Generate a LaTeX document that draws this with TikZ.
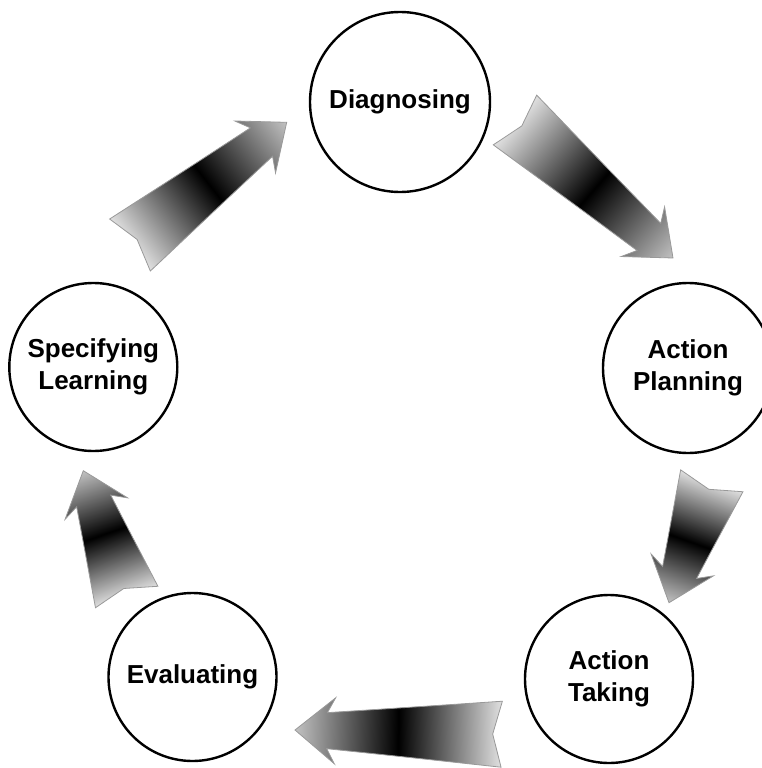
\documentclass[tikz,border=0pt]{standalone}
\usepackage{fontspec}
\setmainfont{Liberation Sans}

\tikzset{
	stage/.style={circle,draw=black,line width=2.4pt,inner sep=0pt,align=center,
		font=\fontsize{26}{31.7}\selectfont\bfseries},
	arrowfill/.style={draw=gray!80,line width=0.8pt,left color=black!12,right color=black!24,middle color=black}
}

% block arrow from a named tail coordinate to a named tip coordinate
\newcommand\cyclearrow[2]{%
	\pgfpointdiff{\pgfpointanchor{#1}{center}}{\pgfpointanchor{#2}{center}}%
	\pgfgetlastxy{\arrdx}{\arrdy}%
	\pgfmathsetmacro\arrlen{veclen(\arrdx,\arrdy)}%
	\pgfmathsetmacro\arrang{atan2(\arrdy,\arrdx)}%
	\pgfpointanchor{#1}{center}\pgfgetlastxy{\arrx}{\arry}%
	\begin{scope}[transform canvas={shift={(\arrx,\arry)},rotate=\arrang}]
		\shade[arrowfill] (0,33) -- (\arrlen-32,18) -- (\arrlen-40,33) -- (\arrlen,0)
			-- (\arrlen-40,-33) -- (\arrlen-32,-18) -- (0,-33) -- (9,0) -- cycle;
	\end{scope}}

\begin{document}
\begin{tikzpicture}[x=1pt,y=-1pt]
		\useasboundingbox (0,0) rectangle (762,768);
		\node[stage,minimum size=180pt] (diag) at (400,102) {Diagnosing};
		\node[stage,minimum size=170pt] (plan) at (688,368) {Action\\Planning};
		\node[stage,minimum size=168pt] (take) at (609,679) {Action\\Taking};
		\node[stage,minimum size=168pt] (eval) at (192.5,677) {Evaluating};
		\node[stage,minimum size=168pt] (spec) at (93.3,367) {Specifying\\Learning};
		\coordinate (diag-out) at (515,120);
		\coordinate (plan-in) at (673,258);
		\coordinate (plan-out) at (711.8,480.8);
		\coordinate (take-in) at (669,602.7);
		\coordinate (take-out) at (501.7,734.2);
		\coordinate (eval-in) at (295,730);
		\coordinate (eval-out) at (126.7,597);
		\coordinate (spec-in) at (83.3,470.7);
		\coordinate (spec-out) at (130,245);
		\coordinate (diag-in) at (286.7,122.3);
		\cyclearrow{diag-out}{plan-in}
		\cyclearrow{plan-out}{take-in}
		\cyclearrow{take-out}{eval-in}
		\cyclearrow{eval-out}{spec-in}
		\cyclearrow{spec-out}{diag-in}
\end{tikzpicture}
\end{document}
